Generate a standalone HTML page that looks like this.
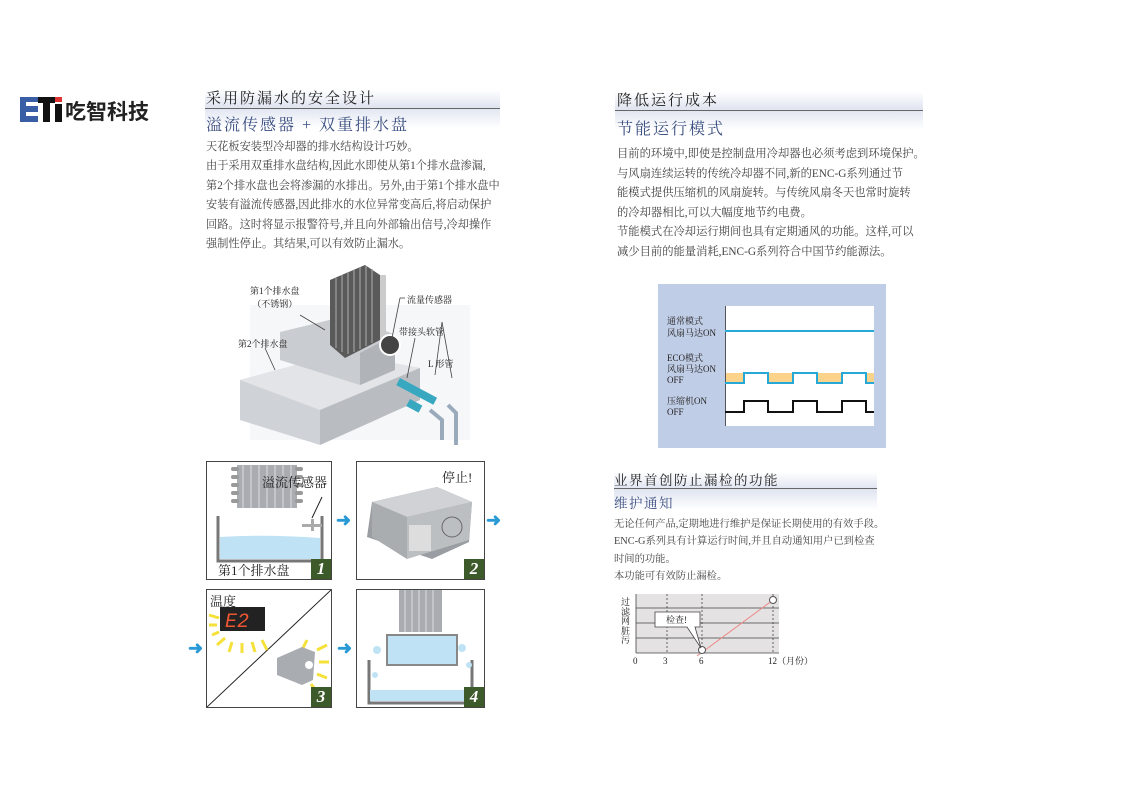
<!DOCTYPE html>
<html><head><meta charset="utf-8"><style>
*{margin:0;padding:0}
body{width:1122px;height:793px;background:#fff;position:relative;overflow:hidden;font-family:"Liberation Serif","Noto Serif CJK SC",serif;color:#333}
.a{position:absolute;white-space:nowrap}
.h1{font-size:15px;color:#222;letter-spacing:2px}
.h2{font-size:16px;color:#3a4e80;letter-spacing:2px}
.bar{position:absolute;height:38px;background:linear-gradient(180deg,#fff 0%,#dfe4f0 45%,#fff 100%)}
.ln{position:absolute;height:1px;background:#666}
.t{font-size:11.2px;line-height:19.4px;color:#444}
.sm{font-size:9px;color:#222;font-family:"Liberation Serif","Noto Serif CJK SC",serif}
.p{position:absolute;border:1px solid #444;background:#fff;overflow:hidden}
.num{position:absolute;right:0;bottom:0;width:20px;height:20px;background:#3d5a2b;color:#fff;font-style:italic;font-weight:bold;font-size:17px;text-align:center;line-height:20px}
</style></head><body>
<!-- logo -->
<div class="a" style="left:20px;top:97px;width:18px;height:25px;background:#3a5ea6"></div>
<div class="a" style="left:26px;top:102px;width:12px;height:4px;background:#fff"></div>
<div class="a" style="left:26px;top:112px;width:12px;height:4px;background:#fff"></div>
<div class="a" style="left:38px;top:97px;width:17px;height:6px;background:#111"></div>
<div class="a" style="left:43px;top:97px;width:7px;height:25px;background:#111"></div>
<div class="a" style="left:55px;top:97px;width:7px;height:5px;background:#d33"></div>
<div class="a" style="left:55px;top:104px;width:7px;height:18px;background:#111"></div>
<div class="a" style="left:65px;top:96px;font-size:21px;font-weight:bold;color:#222;font-family:'Liberation Sans','Noto Sans CJK SC',sans-serif">吃智科技</div>

<!-- left header -->
<div class="bar" style="left:205px;top:90px;width:295px"></div>
<div class="ln" style="left:205px;top:108px;width:295px"></div>
<div class="a h1" style="left:206px;top:87px">采用防漏水的安全设计</div>
<div class="a h2" style="left:206px;top:112px">溢流传感器 + 双重排水盘</div>
<div class="a t" style="left:206px;top:138px">天花板安装型冷却器的排水结构设计巧妙。<br>由于采用双重排水盘结构,因此水即使从第1个排水盘渗漏,<br>第2个排水盘也会将渗漏的水排出。另外,由于第1个排水盘中<br>安装有溢流传感器,因此排水的水位异常变高后,将启动保护<br>回路。这时将显示报警符号,并且向外部输出信号,冷却操作<br>强制性停止。其结果,可以有效防止漏水。</div>

<!-- illustration -->
<svg class="a" style="left:220px;top:260px" width="260" height="190">
<polygon points="30,45 250,45 250,180 30,180" fill="#f6f7f9"/>
<polygon points="20,120 120,93 200,108 200,140 100,185 20,160" fill="#cfd2d6"/>
<polygon points="20,120 120,93 200,108 100,150" fill="#e2e4e7"/>
<polygon points="100,150 200,108 200,140 100,185" fill="#b9bdc2"/>
<polygon points="60,72 130,55 175,75 175,110 140,125 60,100" fill="#c9ccd0"/>
<polygon points="140,93 175,75 175,110 140,125" fill="#b0b4b9"/>
<polygon points="110,20 145,5 160,15 160,80 125,98 110,85" fill="#5a5a5a"/>
<g stroke="#9a9a9a" stroke-width="1.3"><line x1="116" y1="18" x2="116" y2="88"/><line x1="122" y1="15" x2="122" y2="92"/><line x1="128" y1="12" x2="128" y2="94"/><line x1="134" y1="10" x2="134" y2="92"/><line x1="140" y1="7" x2="140" y2="89"/><line x1="146" y1="6" x2="146" y2="86"/><line x1="152" y1="9" x2="152" y2="83"/></g>
<g fill="#ccc"><rect x="160" y="15" width="6" height="65"/></g>
<circle cx="170" cy="85" r="10" fill="#444" stroke="#fff" stroke-width="2"/>
<rect x="180" y="118" width="42" height="8" fill="#37a8c0" transform="rotate(28 180 118)"/>
<rect x="190" y="139" width="14" height="8" fill="#37a8c0" transform="rotate(28 190 139)"/>
<path d="M210 150 L222 160 L222 180" stroke="#9ab" stroke-width="4" fill="none"/>
<path d="M228 145 L236 153 L236 185" stroke="#9ab" stroke-width="4" fill="none"/>
<g stroke="#444" stroke-width="0.8" fill="none"><line x1="80" y1="55" x2="105" y2="70"/><line x1="45" y1="88" x2="55" y2="110"/><line x1="180" y1="38" x2="172" y2="78"/><line x1="180" y1="38" x2="185" y2="38"/><line x1="195" y1="78" x2="187" y2="118"/><line x1="222" y1="62" x2="215" y2="115"/><line x1="222" y1="62" x2="232" y2="118"/></g>
</svg>
<div class="a sm" style="left:250px;top:285px;text-align:center;line-height:13px">第1个排水盘<br>（不锈钢）</div>
<div class="a sm" style="left:238px;top:337px">第2个排水盘</div>
<div class="a sm" style="left:407px;top:293px">流量传感器</div>
<div class="a sm" style="left:399px;top:325px">带接头软管</div>
<div class="a sm" style="left:428px;top:357px">L 形管</div>

<!-- panels -->
<div class="p" style="left:206px;top:461px;width:124px;height:117px">
<svg width="124" height="117"><g fill="#a9adb2"><rect x="30" y="3" width="60" height="43"/></g>
<g fill="#999"><rect x="24" y="5" width="8" height="4" rx="2"/><rect x="24" y="13" width="8" height="4" rx="2"/><rect x="24" y="21" width="8" height="4" rx="2"/><rect x="24" y="29" width="8" height="4" rx="2"/><rect x="24" y="37" width="8" height="4" rx="2"/><rect x="88" y="5" width="8" height="4" rx="2"/><rect x="88" y="13" width="8" height="4" rx="2"/><rect x="88" y="21" width="8" height="4" rx="2"/><rect x="88" y="29" width="8" height="4" rx="2"/><rect x="88" y="37" width="8" height="4" rx="2"/></g>
<g stroke="#ddd"><line x1="36" y1="3" x2="36" y2="46"/><line x1="44" y1="3" x2="44" y2="46"/><line x1="52" y1="3" x2="52" y2="46"/><line x1="60" y1="3" x2="60" y2="46"/><line x1="68" y1="3" x2="68" y2="46"/><line x1="76" y1="3" x2="76" y2="46"/><line x1="84" y1="3" x2="84" y2="46"/></g>
<path d="M11 54 V99 H115 V54" stroke="#777" stroke-width="3" fill="none"/>
<path d="M13 75 Q60 72 113 76 V97 H13Z" fill="#bfe3f5"/>
<rect x="95" y="62" width="20" height="3" fill="#aaa"/><rect x="104" y="57" width="3" height="12" fill="#aaa"/>
<line x1="115" y1="35" x2="105" y2="56" stroke="#222"/></svg>
<div class="a" style="left:55px;top:10px;font-size:13px;color:#222">溢流传感器</div>
<div class="a" style="left:11px;top:98px;font-size:13px;color:#222">第1个排水盘</div>
<div class="num">1</div></div>

<div class="p" style="left:356px;top:461px;width:127px;height:117px">
<svg width="127" height="117"><polygon points="10,75 15,40 80,25 115,40 112,80 75,97" fill="#9a9da1"/>
<polygon points="15,40 80,25 115,40 50,55" fill="#d0d2d5"/><polygon points="50,55 115,40 112,78 50,97" fill="#bcbfc2"/><polygon points="15,40 50,55 50,97 15,75" fill="#aaadb0"/>
<rect x="52" y="63" width="22" height="26" fill="#ddd"/><circle cx="95" cy="65" r="10" fill="none" stroke="#666"/></svg>
<div class="a" style="left:85px;top:5px;font-size:13px;color:#222">停止!</div>
<div class="num">2</div></div>

<div class="p" style="left:206px;top:589px;width:124px;height:117px">
<svg width="124" height="117"><line x1="0" y1="117" x2="124" y2="0" stroke="#222"/>
<g stroke="#f5e13a" stroke-width="3"><line x1="2" y1="25" x2="12" y2="28"/><line x1="2" y1="35" x2="10" y2="35"/><line x1="5" y1="45" x2="12" y2="42"/><line x1="10" y1="55" x2="18" y2="48"/><line x1="22" y1="62" x2="25" y2="52"/><line x1="35" y1="63" x2="35" y2="53"/><line x1="48" y1="62" x2="45" y2="52"/><line x1="60" y1="60" x2="55" y2="50"/><line x1="110" y1="60" x2="120" y2="55"/><line x1="112" y1="72" x2="122" y2="72"/><line x1="110" y1="84" x2="120" y2="88"/><line x1="104" y1="94" x2="110" y2="102"/><line x1="95" y1="60" x2="100" y2="50"/></g>
<rect x="13" y="17" width="45" height="24" fill="#222"/>
<text x="18" y="37" font-size="20" fill="#e53" font-family="Liberation Mono,monospace" font-style="italic">E2</text>
<path d="M70 68 L95 57 L108 62 L106 90 L95 95 L70 85Z" fill="#a9acb0"/><circle cx="102" cy="75" r="4" fill="#fff"/></svg>
<div class="a" style="left:3px;top:1px;font-size:13px;color:#222">温度</div>
<div class="num">3</div></div>

<div class="p" style="left:356px;top:589px;width:127px;height:117px">
<svg width="127" height="117"><rect x="42" y="0" width="43" height="42" fill="#a9adb2"/>
<g stroke="#ddd"><line x1="48" y1="0" x2="48" y2="42"/><line x1="55" y1="0" x2="55" y2="42"/><line x1="62" y1="0" x2="62" y2="42"/><line x1="69" y1="0" x2="69" y2="42"/><line x1="76" y1="0" x2="76" y2="42"/></g>
<rect x="30" y="45" width="70" height="30" fill="#bfe3f5" stroke="#888" stroke-width="2"/>
<path d="M12 70 V113 H115 V70" stroke="#777" stroke-width="3" fill="none"/>
<rect x="13" y="100" width="101" height="11" fill="#bfe3f5"/>
<g fill="#bfe3f5"><circle cx="20" cy="60" r="4"/><circle cx="105" cy="58" r="4"/><circle cx="18" cy="85" r="3"/><circle cx="112" cy="75" r="3"/></g></svg>
<div class="num">4</div></div>

<!-- arrows -->
<div class="a" style="left:336px;top:510px;color:#2a9ad6;font-size:18px;font-weight:bold">➜</div>
<div class="a" style="left:486px;top:510px;color:#2a9ad6;font-size:18px;font-weight:bold">➜</div>
<div class="a" style="left:188px;top:638px;color:#2a9ad6;font-size:18px;font-weight:bold">➜</div>
<div class="a" style="left:337px;top:638px;color:#2a9ad6;font-size:18px;font-weight:bold">➜</div>

<!-- right header -->
<div class="bar" style="left:615px;top:92px;width:308px"></div>
<div class="ln" style="left:615px;top:110px;width:308px"></div>
<div class="a h1" style="left:617px;top:89px">降低运行成本</div>
<div class="a h2" style="left:617px;top:116px">节能运行模式</div>
<div class="a t" style="left:617px;top:145px;line-height:19.6px;font-size:11.3px">目前的环境中,即使是控制盘用冷却器也必须考虑到环境保护。<br>与风扇连续运转的传统冷却器不同,新的ENC-G系列通过节<br>能模式提供压缩机的风扇旋转。与传统风扇冬天也常时旋转<br>的冷却器相比,可以大幅度地节约电费。<br>节能模式在冷却运行期间也具有定期通风的功能。这样,可以<br>减少目前的能量消耗,ENC-G系列符合中国节约能源法。</div>

<!-- chart -->
<div class="a" style="left:658px;top:284px;width:228px;height:164px;background:#c0cde6"></div>
<svg class="a" style="left:658px;top:284px" width="228" height="164">
<rect x="67" y="22" width="149" height="120" fill="#fff"/>
<line x1="67.5" y1="22" x2="67.5" y2="142" stroke="#555"/>
<line x1="67" y1="47" x2="216" y2="47" stroke="#27a9d8" stroke-width="2"/>
<g fill="#fbd38a"><rect x="68" y="89" width="18" height="10"/><rect x="110" y="89" width="25" height="10"/><rect x="159" y="89" width="25" height="10"/><rect x="208" y="89" width="8" height="10"/></g>
<path d="M67 99 H86 V89 H110 V99 H135 V89 H159 V99 H184 V89 H208 V99 H216" stroke="#27a9d8" stroke-width="2" fill="none"/>
<path d="M67 128 H86 V117 H110 V128 H135 V117 H159 V128 H184 V117 H208 V128 H216" stroke="#111" stroke-width="2" fill="none"/>
</svg>
<div class="a sm" style="left:667px;top:315px;line-height:12px">通常模式<br>风扇马达ON</div>
<div class="a sm" style="left:667px;top:353px;line-height:11px">ECO模式<br>风扇马达ON<br>OFF</div>
<div class="a sm" style="left:667px;top:396px;line-height:11px">压缩机ON<br>OFF</div>

<!-- third section -->
<div class="bar" style="left:614px;top:472px;width:263px"></div>
<div class="ln" style="left:614px;top:488px;width:263px"></div>
<div class="a" style="left:614px;top:469px;font-size:13.5px;color:#222;letter-spacing:1.5px">业界首创防止漏检的功能</div>
<div class="a" style="left:614px;top:492px;font-size:13.5px;color:#3a4e80;letter-spacing:1.5px">维护通知</div>
<div class="a t" style="left:614px;top:516px;font-size:10.3px;line-height:17.3px">无论任何产品,定期地进行维护是保证长期使用的有效手段。<br>ENC-G系列具有计算运行时间,并且自动通知用户已到检查<br>时间的功能。<br>本功能可有效防止漏检。</div>

<svg class="a" style="left:615px;top:590px" width="220" height="85">
<rect x="21" y="4" width="143" height="59" fill="#e4e2e2"/>
<g stroke="#444" stroke-width="0.8"><line x1="21" y1="18" x2="164" y2="18"/><line x1="21" y1="33" x2="164" y2="33"/><line x1="21" y1="48" x2="164" y2="48"/><line x1="21" y1="63" x2="164" y2="63"/><line x1="21" y1="4" x2="21" y2="63"/></g>
<g stroke="#444" stroke-width="0.8" stroke-dasharray="2,2"><line x1="52" y1="4" x2="52" y2="63"/><line x1="87" y1="4" x2="87" y2="63"/><line x1="158" y1="4" x2="158" y2="63"/></g>
<line x1="82" y1="66" x2="158" y2="10" stroke="#e88" stroke-width="1"/>
<circle cx="87" cy="60" r="3.5" fill="#fff" stroke="#555"/><circle cx="158" cy="10" r="3.5" fill="#fff" stroke="#555"/>
<path d="M40 22 H85 V37 H80 L86 58 L72 37 H40Z" fill="#fff" stroke="#444" stroke-width="0.8"/>
<text x="51" y="33" font-size="9" fill="#222">检查!</text>
<text x="18" y="74" font-size="9" fill="#222">0</text><text x="48" y="74" font-size="9" fill="#222">3</text><text x="84" y="74" font-size="9" fill="#222">6</text><text x="153" y="74" font-size="9" fill="#222">12（月份）</text>
</svg>
<div class="a sm" style="left:621px;top:598px;line-height:9.5px;width:10px;white-space:normal">过滤网脏污</div>
</body></html>
